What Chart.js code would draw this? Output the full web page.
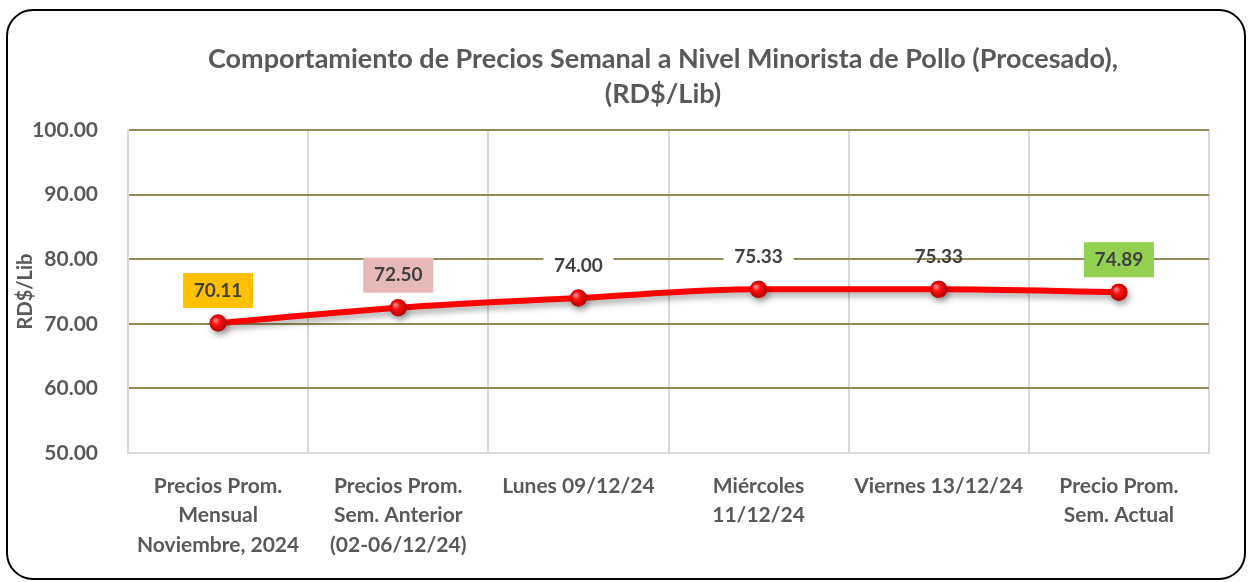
<!DOCTYPE html>
<html>
<head>
<meta charset="utf-8">
<script src="https://cdn.jsdelivr.net/npm/chart.js@4/dist/chart.umd.min.js"></script>
<style>
  html, body { margin: 0; padding: 0; background: #fff; }
  #wrap { width: 1250px; height: 582px; position: relative; }
</style>
</head>
<body>
<div id="wrap"><canvas id="myChart"></canvas></div>
<script>
let labels = [
  ['Precios Prom.', 'Mensual', 'Noviembre, 2024'],
  ['Precios Prom.', 'Sem. Anterior', '(02-06/12/24)'],
  'Lunes 09/12/24',
  ['Miércoles', '11/12/24'],
  'Viernes 13/12/24',
  ['Precio Prom.', 'Sem. Actual']
];
let prices = [70.11, 72.50, 74.00, 75.33, 75.33, 74.89];
let labelBoxes = ['#FFC000', '#E6B8B7', '#FFFFFF', '#FFFFFF', null, '#92D050'];
let titleLines = ['Comportamiento de Precios Semanal a Nivel Minorista de Pollo (Procesado),', '(RD$/Lib)'];

let font = 'Lato, "Open Sans", sans-serif';
let grey = '#595959';

// frame and title
let framePlugin = {
  id: 'frame',
  beforeDraw(chart) {
    let c = chart.ctx;
    c.save();
    c.fillStyle = '#fff';
    c.fillRect(0, 0, chart.width, chart.height);
    let x = 7, y = 10, w = 1238, h = 569, r = 26;
    c.beginPath();
    c.moveTo(x + r, y);
    c.arcTo(x + w, y, x + w, y + h, r);
    c.arcTo(x + w, y + h, x, y + h, r);
    c.arcTo(x, y + h, x, y, r);
    c.arcTo(x, y, x + w, y, r);
    c.closePath();
    c.lineWidth = 2;
    c.strokeStyle = '#000';
    c.stroke();
    c.fillStyle = grey;
    c.font = 'bold 27px ' + font;
    c.textAlign = 'center';
    c.textBaseline = 'middle';
    c.fillText(titleLines[0], 663, 59);
    c.fillText(titleLines[1], 663, 94);
    c.restore();
  }
};

// shadow under line and points
let shadowPlugin = {
  id: 'shadow',
  beforeDatasetDraw(chart) {
    let c = chart.ctx;
    c.save();
    c.shadowColor = 'rgba(0,0,0,0.35)';
    c.shadowBlur = 6;
    c.shadowOffsetX = 2;
    c.shadowOffsetY = 4;
  },
  afterDatasetDraw(chart) {
    chart.ctx.restore();
  }
};

// shiny markers and value labels
let labelPlugin = {
  id: 'valueLabels',
  afterDatasetsDraw(chart) {
    let c = chart.ctx;
    let meta = chart.getDatasetMeta(0);
    c.save();
    meta.data.forEach((pt, i) => {
      let g = c.createRadialGradient(pt.x - 3, pt.y - 3, 1, pt.x, pt.y, 9);
      g.addColorStop(0, '#ff8080');
      g.addColorStop(0.35, '#ff1010');
      g.addColorStop(1, '#b00000');
      c.beginPath();
      c.arc(pt.x, pt.y, 8.5, 0, Math.PI * 2);
      c.fillStyle = g;
      c.fill();
    });
    c.font = 'bold 19px ' + font;
    c.textAlign = 'center';
    c.textBaseline = 'middle';
    meta.data.forEach((pt, i) => {
      let cx = pt.x, cy = pt.y - 32.5;
      if (labelBoxes[i]) {
        c.fillStyle = labelBoxes[i];
        c.fillRect(cx - 35, cy - 17.5, 70, 35);
      }
      c.fillStyle = '#404040';
      c.fillText(prices[i].toFixed(2), cx, cy);
    });
    c.restore();
  }
};

let ctx = document.getElementById('myChart').getContext('2d');

let chart = new Chart(ctx, {
  type: 'line',
  data: {
    labels: labels,
    datasets: [{
      data: prices,
      borderColor: '#FF0000',
      borderWidth: 6,
      tension: 0.4,
      cubicInterpolationMode: 'monotone',
      pointRadius: 8.5,
      pointBackgroundColor: '#e00000',
      pointBorderWidth: 0,
      fill: false
    }]
  },
  options: {
    responsive: true,
    maintainAspectRatio: false,
    animation: false,
    layout: { padding: { left: 0, right: 41, top: 130, bottom: 0 } },
    plugins: {
      legend: { display: false },
      tooltip: { enabled: false }
    },
    scales: {
      x: {
        offset: true,
        afterFit(scale) { scale.height = 129; },
        grid: { offset: true, color: '#d9d9d9', lineWidth: 2, drawTicks: false },
        border: { color: '#d9d9d9', width: 2 },
        ticks: {
          color: grey,
          font: { family: font, size: 21, weight: 'bold', lineHeight: 1.42 },
          padding: 18,
          maxRotation: 0,
          autoSkip: false
        }
      },
      y: {
        min: 50,
        max: 100,
        afterFit(scale) { scale.width = 128; },
        grid: {
          color: c => c.tick && c.tick.value === 50 ? 'rgba(0,0,0,0)' : '#958b57',
          lineWidth: 2,
          drawTicks: false
        },
        border: { color: '#d9d9d9', width: 2 },
        ticks: {
          stepSize: 10,
          color: grey,
          font: { family: font, size: 21, weight: 'bold' },
          padding: 30,
          callback: v => v.toFixed(2)
        },
        title: {
          display: true,
          text: 'RD$/Lib',
          color: grey,
          font: { family: font, size: 20, weight: 'bold' },
          padding: { top: 14, bottom: 0 }
        }
      }
    }
  },
  plugins: [framePlugin, shadowPlugin, labelPlugin]
});
</script>
</body>
</html>
